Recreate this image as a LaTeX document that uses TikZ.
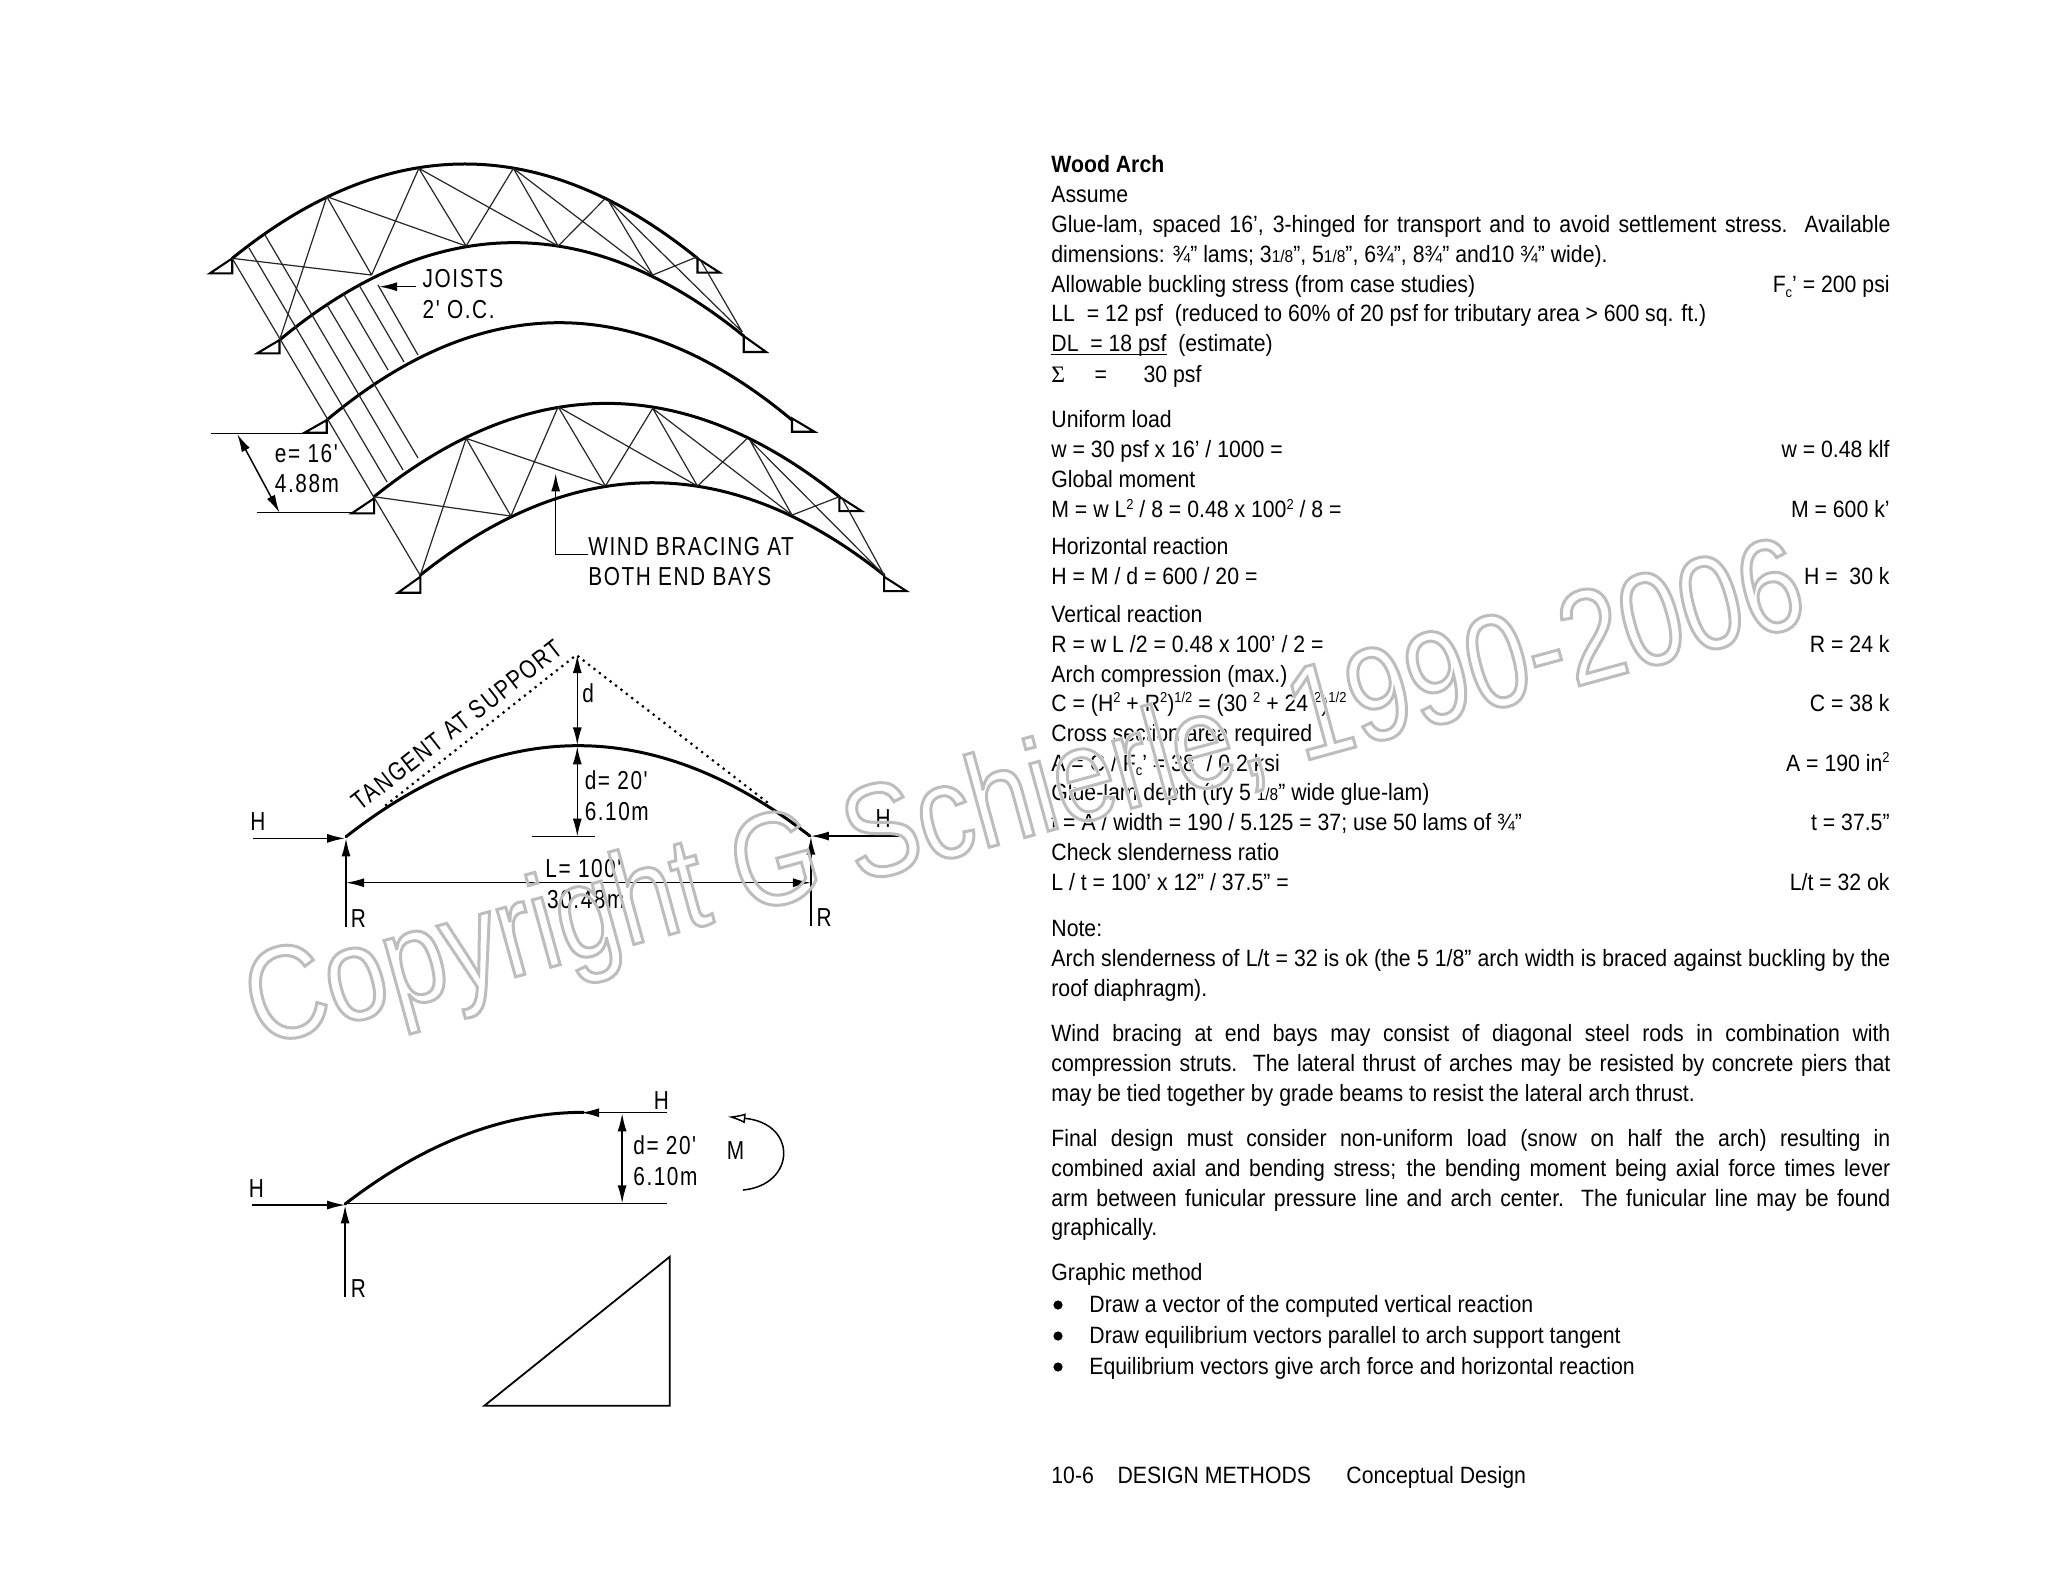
\documentclass[tikz,border=0pt]{standalone}
\usepackage{fontspec}
\usetikzlibrary{arrows.meta,calc}
\setmainfont{Liberation Sans}[FakeStretch=0.90]
\newfontfamily\cadfont{Liberation Sans}[FakeStretch=0.80,LetterSpace=6]
\newfontfamily\wmfont{Liberation Sans}[FakeStretch=0.837]
\newfontfamily\sgmfont{Liberation Serif}
\newcommand\tsz{\fontsize{11.8}{14}\selectfont}
\newcommand\supx[1]{\raisebox{.36em}{\fontsize{7.2}{8}\selectfont #1}}
\newcommand\subx[1]{\raisebox{-.18em}{\fontsize{7.2}{8}\selectfont #1}}
\newcommand\smf[1]{{\fontsize{8.6}{9}\selectfont #1}}
\newcommand\ulx[1]{\setbox0\hbox{#1}\rlap{\rule[-1.7pt]{\wd0}{0.7pt}}\box0}
\newcommand\LL[2]{\node[tl] at (1051,#1) {#2};}
\newcommand\RR[2]{\node[tr] at (1890,#1) {#2};}
\newcommand\JJ[2]{\node[tl] at (1051,#1) {\makebox[419.5pt][s]{#2}};}
% true parabola: start, tangent intersection, end
\newcommand\parab[3]{\draw[arch] (#1) .. controls ($(#1)!0.6667!(#2)$) and ($(#3)!0.6667!(#2)$) .. (#3);}
\newcommand\wmtext{Copyright G Schierle, 1990-2006}
\tikzset{
  tl/.style={anchor=base west,inner sep=0pt,font=\tsz},
  tr/.style={anchor=base east,inner sep=0pt,font=\tsz},
  cad/.style={inner sep=0pt,font=\cadfont\fontsize{13}{15}\selectfont},
  cadl/.style={cad,anchor=west},
  arch/.style={line width=1.5pt,line join=round,line cap=round},
  thin/.style={line width=0.6pt,draw=black!85},
  supp/.style={line width=1.05pt,line join=miter},
  dim/.style={line width=0.75pt},
  tip/.style={-{Latex[length=9pt,width=4.5pt]}},
  tips/.style={{Latex[length=9pt,width=4.5pt]}-{Latex[length=9pt,width=4.5pt]}},
  zA/.style={x=0.2488pt,y=-0.1667pt,xshift=90pt,yshift=-65pt},
  zB/.style={x=0.2360pt,y=-0.1667pt,xshift=110pt,yshift=-310pt},
  zC/.style={x=0.2360pt,y=-0.1667pt,xshift=110pt,yshift=-530pt},
}
\begin{document}
\begin{tikzpicture}[x=0.5pt,y=-0.5pt]
\useasboundingbox (0,0) rectangle (2048,1582);
\fill[white] (0,0) rectangle (2048,1582);
%---------- arches
\begin{scope}[zA]
\parab{105,385}{572,-181}{1040,385}
\parab{200,630}{667,52}{1133,618}
\parab{295,870}{762,286}{1230,870}
\parab{390,1100}{857,540}{1325,1100}
\parab{483,1335}{949,781}{1415,1335}
\foreach \a/\b/\c in {105/385/430,200/630/670,295/870/908,390/1105/1150,483/1340/1388}
  \draw[supp] (\a,\b) -- (\a-45,\c) -- (\a,\c) -- cycle;
\foreach \a/\b/\c in {1040/385/428,1133/618/666,1230/865/905,1325/1100/1143,1415/1340/1383}
  \draw[supp] (\a,\b) -- (\a,\c) -- (\a+45,\c) -- cycle;
% upper bracing
\draw[thin] (105,385)--(385,435) (295,200)--(200,630) (295,200)--(385,435) (385,435)--(480,115)
 (295,200)--(575,348) (480,115)--(575,348) (480,115)--(760,348) (575,348)--(670,115)
 (670,115)--(760,348) (670,115)--(950,435) (760,348)--(855,205) (860,210)--(950,435)
 (860,210)--(1130,606) (950,435)--(1040,380) (1045,388)--(1130,606);
% lower bracing
\draw[thin] (390,1100)--(665,1158) (575,925)--(483,1335) (575,925)--(665,1158) (665,1158)--(760,830)
 (575,925)--(855,1068) (760,830)--(855,1068) (760,830)--(1040,1068) (855,1068)--(950,835)
 (950,835)--(1230,1155) (950,835)--(1040,1068) (1040,1068)--(1140,925) (1145,930)--(1230,1155)
 (1145,930)--(1415,1335) (1230,1155)--(1325,1100) (1330,1103)--(1415,1335);
% callouts
\draw[dim,tip] (475,470)--(400,470);
\node[cadl] at (487,445) {JOISTS};
\node[cadl] at (487,540) {2' O.C.};
\draw[dim] (62,910)--(250,910) (155,1148)--(345,1148);
\draw[dim,tips] (115,912)--(200,1148);
\node[cadl] at (190,970) {e=\ 16'};
\node[cadl] at (190,1060) {4.88m};
\draw[dim,tip] (820,1273)--(755,1273)--(755,1030);
\node[cadl] at (820,1248) {WIND BRACING AT};
\node[cadl] at (820,1338) {BOTH END BAYS};
\end{scope}
%---------- joists
\draw[thin] (232,258)--(420,575) (249,248)--(387,482) (265,235)--(403,470)
 (327,305)--(418,458) (343,293)--(388,370) (359,285)--(404,362) (378,285)--(418,355);
%---------- middle diagram
\begin{scope}[zB]
\parab{267,650}{757,105}{1250,648}
\draw[line width=1.1pt,dash pattern=on 1.1pt off 2.3pt] (350,557)--(755,105)--(1165,553);
\draw[dim,tip] (70,655)--(265,655);
\draw[dim,tip] (1445,648)--(1252,648);
\draw[dim,tip] (267,920)--(267,655);
\draw[dim,tip] (1252,918)--(1252,650);
\draw[dim,tips] (267,788)--(1252,788);
\draw[dim,tips] (757,105)--(757,376);
\draw[dim,tips] (757,379)--(757,650);
\draw[dim] (662,650)--(795,650);
\node[cad] at (80,605) {H};
\node[cad] at (1405,595) {H};
\node[cad] at (293,895) {R};
\node[cad] at (1280,892) {R};
\node[cad] at (770,745) {L=\ 100'};
\node[cad] at (775,838) {30.48m};
\node[cad] at (780,220) {d};
\node[cadl] at (772,480) {d=\ 20'};
\node[cadl] at (772,575) {6.10m};
\end{scope}
\node[cad,rotate=38] at (457,725) {TANGENT AT SUPPORT};
%---------- lower diagram
\begin{scope}[zC]
\parab{265,432}{517,157}{770,157}
\draw[dim,tip] (68,435)--(265,435);
\draw[dim] (265,430)--(948,430);
\draw[dim,tip] (948,158)--(765,158);
\draw[dim,tips] (852,160)--(852,430);
\draw[dim,tip] (265,710)--(265,436);
\draw[dim,-{Latex[open,length=9pt,width=5pt]}] (1108,390) .. controls (1220,375) and (1225,190) .. (1075,170);
\draw[line width=0.9pt,line join=miter] (560,1037)--(953,590)--(953,1037)--cycle;
\node[cad] at (77,385) {H};
\node[cad] at (935,122) {H};
\node[cad] at (293,685) {R};
\node[cad] at (1092,272) {M};
\node[cadl] at (875,255) {d=\ 20'};
\node[cadl] at (875,350) {6.10m};
\end{scope}
%---------- text column
\node[tl,font=\tsz\bfseries] at (1051,173) {Wood Arch};
\LL{203}{Assume}
\JJ{233}{Glue-lam, spaced 16’, 3-hinged for transport and to avoid settlement stress.\ \ Available}
\LL{263}{dimensions: ¾” lams; 3\smf{1/8}”, 5\smf{1/8}”, 6¾”, 8¾” and10 ¾” wide).}
\LL{293}{Allowable buckling stress (from case studies)}
\RR{293}{F\subx{c}’ = 200 psi}
\LL{322}{LL\ \ = 12 psf\ \ (reduced to 60\% of 20 psf for tributary area > 600 sq. ft.)}
\LL{352}{\ulx{DL\ \ = 18 psf}\ \ (estimate)}
\LL{383}{{\sgmfont Σ}\hspace{1.25em}=\hspace{1.55em}30 psf}
\LL{428}{Uniform load}
\LL{458}{w = 30 psf x 16’ / 1000 =}
\RR{458}{w = 0.48 klf}
\LL{488}{Global moment}
\LL{518}{M = w L\supx{2} / 8 = 0.48 x 100\supx{2} / 8 =}
\RR{518}{M = 600 k’}
\LL{554}{Horizontal reaction}
\LL{584}{H = M / d = 600 / 20 =}
\RR{584}{H =\ \ 30 k}
\LL{622}{Vertical reaction}
\LL{652}{R = w L /2 = 0.48 x 100’ / 2 =}
\RR{652}{R = 24 k}
\LL{682}{Arch compression (max.)}
\LL{711}{C = (H\supx{2} + R\supx{2})\supx{1/2} = (30 \supx{2} + 24 \supx{2})\supx{1/2}}
\RR{711}{C = 38 k}
\LL{741}{Cross section area required}
\LL{771}{A = C / F\subx{c}’ = 38\ \ / 0.2 ksi}
\RR{771}{A = 190 in\supx{2}}
\LL{800}{Glue-lam depth (try 5 \smf{1/8}” wide glue-lam)}
\LL{830}{t = A / width = 190 / 5.125 = 37; use 50 lams of ¾”}
\RR{830}{t = 37.5”}
\LL{860}{Check slenderness ratio}
\LL{890}{L / t = 100’ x 12” / 37.5” =}
\RR{890}{L/t = 32 ok}
\LL{936}{Note:}
\JJ{966}{Arch slenderness of L/t = 32 is ok (the 5 1/8” arch width is braced against buckling by the}
\LL{996}{roof diaphragm).}
\JJ{1041}{Wind bracing at end bays may consist of diagonal steel rods in combination with}
\JJ{1071}{compression struts.\ \ The lateral thrust of arches may be resisted by concrete piers that}
\LL{1101}{may be tied together by grade beams to resist the lateral arch thrust.}
\JJ{1146}{Final design must consider non-uniform load (snow on half the arch) resulting in}
\JJ{1176}{combined axial and bending stress; the bending moment being axial force times lever}
\JJ{1206}{arm between funicular pressure line and arch center.\ \ The funicular line may be found}
\LL{1235}{graphically.}
\LL{1280}{Graphic method}
\foreach \yy/\tt in {1312/Draw a vector of the computed vertical reaction,1343/Draw equilibrium vectors parallel to arch support tangent,1374/Equilibrium vectors give arch force and horizontal reaction}{
  \fill (1058,\yy-7) circle (2.3pt);
  \node[tl] at (1089,\yy) {\tt};
}
\LL{1483}{10-6\hspace{1em}DESIGN METHODS\hspace{1.5em}Conceptual Design}
%---------- watermark (outlined text; white halo over the text column only)
\begin{scope}
\clip (1040,0) rectangle (2048,1582);
\node[anchor=base west,inner sep=0pt,rotate=15.3] (wmhalo) at (259,1047)
 {\wmfont\fontsize{66}{76}\selectfont\special{pdf:code q 1 Tr 2.1 w 1 G}\wmtext\special{pdf:code Q}};
\end{scope}
\node[anchor=base west,inner sep=0pt,rotate=15.3] (wm) at (259,1047)
 {\wmfont\fontsize{66}{76}\selectfont\special{pdf:code q 1 Tr 1.5 w 0.74 G}\wmtext\special{pdf:code Q}};
\end{tikzpicture}
\end{document}
